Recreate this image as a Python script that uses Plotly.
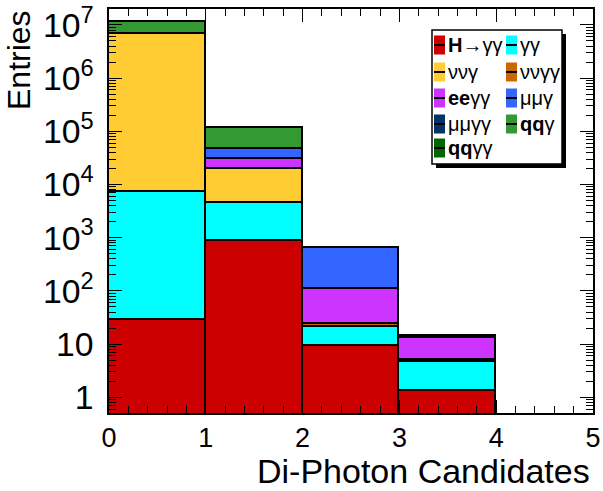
import plotly.graph_objects as go

# ---------------- data ----------------
bin_centers = [0.5, 1.5, 2.5, 3.5, 4.5]
series_names = ["<b>H</b>→γγ", "γγ", "ννγ", "ννγγ", "<b>ee</b>γγ",
                "μμγ", "μμγγ", "<b>qq</b>γ", "<b>qq</b>γγ"]
h_gg      = [28, 880, 9.3, 1.33, 0]
gg        = [7270, 3610, 11.9, 3.2, 0]
nunu_g    = [6.89e6, 14800, 0, 0, 0]
nunu_gg   = [0, 0, 2.4, 0.6, 0]
ee_gg     = [0, 10500, 85, 7.7, 0]
mumu_g    = [0, 16000, 523, 0, 0]
mumu_gg   = [0, 0, 0, 0, 0]
qq_g      = [4.4e6, 68000, 0, 1.5, 0]
qq_gg     = [0, 0, 0, 0, 0]
series_values = [h_gg, gg, nunu_g, nunu_gg, ee_gg, mumu_g, mumu_gg, qq_g, qq_gg]
colors = ["#CC0000", "#00FFFF", "#FFCC33", "#CC6600", "#CC33FF",
          "#3366FF", "#003366", "#339933", "#006600"]
x_ticks = [0, 1, 2, 3, 4, 5]

FONT = "Liberation Sans, Arial, Helvetica, sans-serif"

fig = go.Figure()
for name, vals, col in zip(series_names, series_values, colors):
    fig.add_trace(go.Bar(x=bin_centers, y=vals, name=name, width=1.0,
                         marker=dict(color=col, line=dict(color="black", width=1.6)),
                         showlegend=False))

W, H = 603, 491
L, R, T, B = 109, 10, 9, 78
pw, ph = W - L - R, H - T - B

fig.update_layout(
    width=W, height=H, barmode="stack", bargap=0,
    margin=dict(l=L, r=R, t=T, b=B),
    paper_bgcolor="white", plot_bgcolor="white",
    font=dict(family=FONT, color="black"),
)
fig.update_xaxes(range=[0, 5], tickvals=x_ticks, ticks="inside", ticklen=13, tickwidth=1.2,
                 tickcolor="black", showline=True, linecolor="black", linewidth=2,
                 mirror="allticks", showgrid=False, zeroline=False, automargin=False,
                 tickfont=dict(size=27, family=FONT), ticklabelstandoff=0,
                 minor=dict(dtick=0.2, ticks="inside", ticklen=7, tickwidth=1.2,
                            tickcolor="black", showgrid=False))
fig.update_yaxes(type="log", range=[-0.295, 7.30], dtick=1, exponentformat="power",
                 ticks="inside", ticklen=13, tickwidth=1.2, tickcolor="black",
                 showline=True, linecolor="black", linewidth=2, mirror="allticks",
                 showgrid=False, zeroline=False, automargin=False,
                 tickfont=dict(size=27, family=FONT), ticklabelstandoff=8,
                 minor=dict(dtick="D1", ticks="inside", ticklen=7, tickwidth=1.2,
                            tickcolor="black", showgrid=False))

# axis titles (right/top aligned as in the reference)
fig.add_annotation(text="Di-Photon Candidates", xref="paper", yref="paper",
                   x=1, y=0, xanchor="right", yanchor="bottom", xshift=-2, yshift=-78,
                   borderpad=0, showarrow=False, font=dict(size=34, family=FONT))
fig.add_annotation(text="Entries", xref="paper", yref="paper", textangle=-90,
                   x=0, y=1, xanchor="left", yanchor="top", xshift=-109, yshift=0,
                   borderpad=0, showarrow=False, font=dict(size=32, family=FONT))

# ---------------- legend box ----------------
def px(xp):
    return (xp - L) / pw
def py(yp):
    return 1 - (yp - T) / ph

box = (432, 30, 562, 164)
fig.add_shape(type="rect", xref="paper", yref="paper",
              x0=px(box[0] + 4), x1=px(box[2] + 4), y0=py(box[3] + 4), y1=py(box[1] + 4),
              fillcolor="black", line=dict(width=0), layer="above")
fig.add_shape(type="rect", xref="paper", yref="paper",
              x0=px(box[0]), x1=px(box[2]), y0=py(box[3]), y1=py(box[1]),
              fillcolor="white", line=dict(color="black", width=1.5), layer="above")

row_y = [45, 72, 98, 124, 148]
col_x = [434, 506]
for i, (name, col) in enumerate(zip(series_names, colors)):
    c, r = i % 2, i // 2
    sx, sy = col_x[c], row_y[r]
    fig.add_shape(type="rect", xref="paper", yref="paper",
                  x0=px(sx), x1=px(sx + 11), y0=py(sy + 9.5), y1=py(sy - 9.5),
                  fillcolor=col, line=dict(width=0), layer="above")
    fig.add_shape(type="line", xref="paper", yref="paper",
                  x0=px(sx), x1=px(sx + 11), y0=py(sy), y1=py(sy),
                  line=dict(color="black", width=2), layer="above")
    fig.add_annotation(text=name, xref="paper", yref="paper",
                       x=px(sx + 12), y=py(sy), xanchor="left", yanchor="middle",
                       showarrow=False, font=dict(size=20, family=FONT))

fig.write_html("out.html")
